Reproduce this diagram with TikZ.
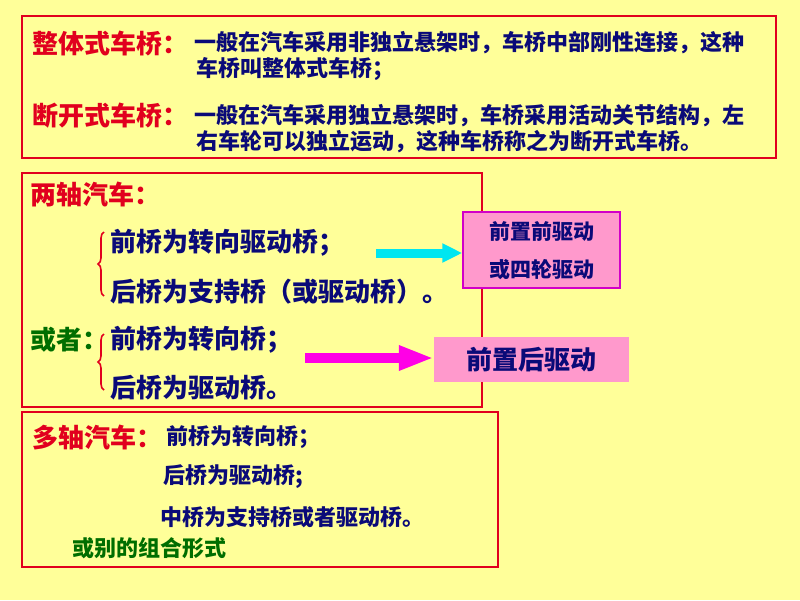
\documentclass[tikz,border=0pt]{standalone}
\usepackage{fontspec}
\setmainfont{Noto Sans CJK SC}[BoldFont={Noto Sans CJK SC Black}]
\usetikzlibrary{arrows.meta,decorations.pathreplacing}
\definecolor{bg}{RGB}{255,255,153}
\definecolor{fr}{RGB}{225,0,30}
\definecolor{navy}{RGB}{10,10,120}
\definecolor{dgreen}{RGB}{0,110,0}
\definecolor{pinkf}{RGB}{255,153,204}
\definecolor{pinkb}{RGB}{210,0,200}
\definecolor{cyanA}{RGB}{0,230,240}
\definecolor{magA}{RGB}{255,0,230}
\tikzset{
  frame/.style={draw=fr,line width=1.8pt},
  txt/.style={anchor=west,inner sep=0pt,font=\bfseries\fontsize{#1}{#1}\selectfont},
  title/.style={txt=26,text=fr},
  body/.style={txt=#1,text=navy},
  grn/.style={txt=#1,text=dgreen},
  pbox/.style={fill=pinkf,inner sep=0pt,align=center},
  brc/.style={draw=fr,line width=1.6pt,decorate,decoration={brace,amplitude=6pt}},
}
\begin{document}
\begin{tikzpicture}[x=1pt,y=-1pt]
\fill[bg] (0,0) rectangle (800,600);
\useasboundingbox (0,0) rectangle (800,600);
% frames
\draw[frame] (22,16) rectangle (776,158);
\draw[frame] (22,173) rectangle (482,407);
\draw[frame] (22,412) rectangle (498,567);
% box 1
\node[title] (t1) at (32,43) {整体式车桥：};
\node[body=22] (l1) at (194,43) {一般在汽车采用非独立悬架时，车桥中部刚性连接，这种};
\node[body=22] (l2) at (196,69) {车桥叫整体式车桥；};
\node[title] (t2) at (32,116) {断开式车桥：};
\node[body=22] (l3) at (194,116) {一般在汽车采用独立悬架时，车桥采用活动关节结构，左};
\node[body=22] (l4) at (196,142) {右车轮可以独立运动，这种车桥称之为断开式车桥。};
% box 2
\node[title] (t3) at (30,194) {两轴汽车：};
\node[body=26] (b1) at (110,243) {前桥为转向驱动桥；};
\node[body=26] (b2) at (110,292) {后桥为支持桥（或驱动桥）。};
\node[grn=26] (t4) at (30,340) {或者：};
\node[body=26] (b3) at (110,340) {前桥为转向桥；};
\node[body=26] (b4) at (110,388) {后桥为驱动桥。};
\draw[brc] (104,296) -- (104,232);
\draw[brc] (104,390) -- (104,334);
% pink boxes
\node[pbox,draw=pinkb,line width=1.5pt,minimum width=157pt,minimum height=76pt] (p1) at (541.5,250) {};
\node[body=21,anchor=center] (p1a) at (541.5,231) {前置前驱动};
\node[body=21,anchor=center] (p1b) at (541.5,270) {或四轮驱动};
\node[pbox,minimum width=195pt,minimum height=45pt,font=\bfseries\fontsize{26}{26}\selectfont,text=navy] (p2) at (531.5,359.5) {前置后驱动};
% arrows
\coordinate (a1) at (376,253);
\draw[cyanA,line width=9pt,-{Triangle[length=20pt,width=18pt]}] (a1) -- (a1 -| p1.west);
\coordinate (a2) at (305,358);
\draw[magA,line width=10pt,-{Triangle[length=35pt,width=23pt]}] (a2) -- (a2 -| p2.west);
% box 3
\node[title] (t5) at (32,437) {多轴汽车：};
\node[body=22] (c1) at (166,437) {前桥为转向桥；};
\node[body=22] (c2) at (163,477) {后桥为驱动桥;};
\node[body=22] (c3) at (160,517) {中桥为支持桥或者驱动桥。};
\node[grn=22] (c4) at (72,548) {或别的组合形式};
\end{tikzpicture}
\end{document}
